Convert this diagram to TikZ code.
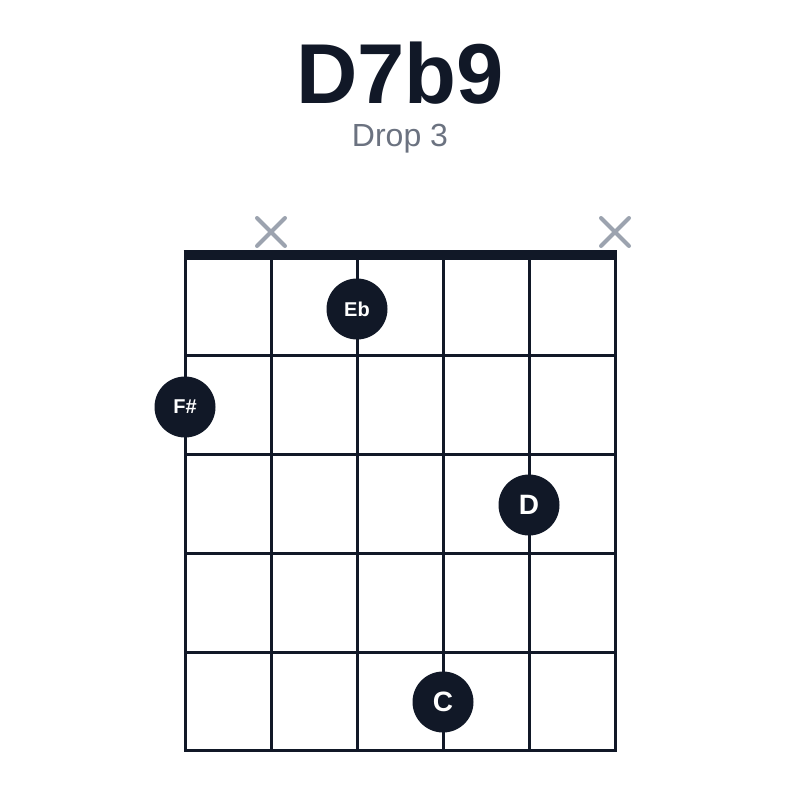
\documentclass[tikz,border=0pt]{standalone}
\usepackage{fontspec}
\setmainfont{Liberation Sans}
\definecolor{ink}{HTML}{111827}
\definecolor{mute}{HTML}{6B7280}
\definecolor{xgray}{HTML}{9CA3AF}
\tikzset{
  fretline/.style={ink, line width=3pt, line cap=rect},
  notedot/.style={circle, fill=ink, minimum size=61pt, inner sep=0pt, text=white},
  mutemark/.style={xgray, line width=4pt, line cap=round},
}
\begin{document}
\begin{tikzpicture}[x=1pt,y=-1pt]
        \useasboundingbox (0,0) rectangle (800,800);

        % chord name
        \node[anchor=base, text=ink] (title) at (400,103) {\fontsize{85}{90}\selectfont\bfseries D7b9};
        \node[anchor=base, text=mute] (voicing) at (400,146) {\fontsize{32}{36}\selectfont Drop 3};

        % strings and frets
        \foreach \x in {185,271,357,443,529,615}
            \draw[fretline] (\x,255) -- (\x,750);
        \foreach \y in {355,454,553,652,750}
            \draw[fretline] (185,\y) -- (615,\y);

        % nut
        \draw[ink, line width=10pt] (183.5,255) -- (616.5,255);

        % muted strings
        \foreach \x in {271,615}
            \draw[mutemark] (\x-14,218) -- (\x+14,246) (\x-14,246) -- (\x+14,218);

        % fingered notes
        \node[notedot, font=\fontsize{20}{22}\selectfont\bfseries] (eb) at (357,309) {Eb};
        \node[notedot, font=\fontsize{20}{22}\selectfont\bfseries] (fsharp) at (185,407) {F\#};
        \node[notedot, font=\fontsize{28}{30}\selectfont\bfseries] (d) at (529,505) {D};
        \node[notedot, font=\fontsize{28}{30}\selectfont\bfseries] (c) at (443,702) {C};
    \end{tikzpicture}
\end{document}
